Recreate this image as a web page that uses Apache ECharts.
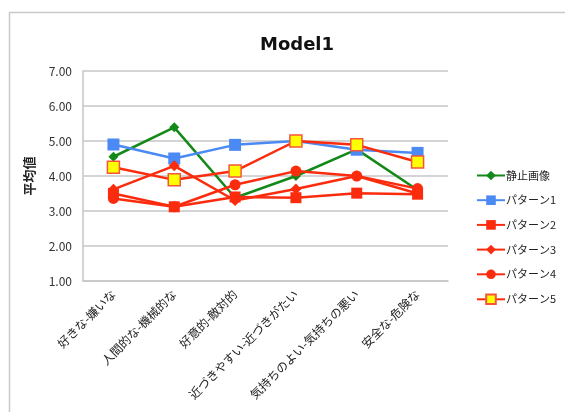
<!DOCTYPE html>
<html>
<head>
<meta charset="utf-8">
<script src="https://cdn.jsdelivr.net/npm/echarts@6/dist/echarts.min.js"></script>
<style>
  html, body { margin: 0; padding: 0; background: #fff; }
  #chart { width: 565px; height: 412px; }
</style>
</head>
<body>
<div id="chart"></div>
<script>
// Semantic differential pairs (x axis)
const categories = ['好きな-嫌いな', '人間的な-機械的な', '好意的-敵対的', '近づきやすい-近づきがたい', '気持ちのよい-気持ちの悪い', '安全な-危険な'];

// Mean scores per condition
const stillImage = [4.55, 5.39, 3.38, 4.00, 4.76, 3.60];
const pattern1   = [4.90, 4.50, 4.89, 5.00, 4.75, 4.66];
const pattern2   = [3.50, 3.12, 3.40, 3.38, 3.51, 3.48];
const pattern3   = [3.62, 4.29, 3.30, 3.63, 4.00, 3.50];
const pattern4   = [3.36, 3.12, 3.75, 4.14, 4.00, 3.64];
const pattern5   = [4.25, 3.89, 4.14, 5.00, 4.89, 4.40];

const yTicks = { min: 1, max: 7, interval: 1 };

const GREEN = '#13891a';
const BLUE = '#4b8af4';
const RED = '#fb2c0e';
const FONT = '"Noto Sans CJK JP", "Noto Sans", sans-serif';

function lineSeries(name, data, color, symbol, size, extra) {
  return Object.assign({
    name: name,
    type: 'line',
    data: data,
    symbol: symbol,
    symbolSize: size,
    lineStyle: { color: color, width: 2.5 },
    itemStyle: { color: color },
    emphasis: { disabled: true }
  }, extra || {});
}

const chart = echarts.init(document.getElementById('chart'), null, { renderer: 'canvas' });
chart.setOption({
  animation: false,
  backgroundColor: '#fff',
  textStyle: { fontFamily: FONT },
  graphic: [{
    type: 'rect',
    shape: { x: 9.5, y: 12.5, width: 600, height: 450 },
    style: { fill: 'none', stroke: '#c9c9c9', lineWidth: 1.5 },
    z: -1
  }],
  title: {
    text: 'Model1',
    left: 255,
    top: 31,
    textStyle: { fontFamily: '"DejaVu Sans", sans-serif', fontWeight: 'bold', fontSize: 18, color: '#111' }
  },
  grid: { left: 83, right: 117, top: 71, bottom: 131, containLabel: false },
  xAxis: {
    type: 'category',
    data: categories,
    boundaryGap: true,
    axisLine: { lineStyle: { color: '#c6c6c6', width: 1.5 } },
    axisTick: { show: false },
    axisLabel: { rotate: 45, margin: 11, fontSize: 12, color: '#222', fontFamily: FONT, interval: 0 }
  },
  yAxis: {
    type: 'value',
    min: yTicks.min,
    max: yTicks.max,
    interval: yTicks.interval,
    name: '平均値',
    nameLocation: 'middle',
    nameRotate: 90,
    nameGap: 47,
    nameTextStyle: { fontSize: 13, fontWeight: 'bold', color: '#222', fontFamily: FONT },
    axisLine: { show: true, lineStyle: { color: '#c6c6c6', width: 1.5 } },
    axisTick: { show: false },
    axisLabel: { margin: 11, fontSize: 12, color: '#333', fontFamily: FONT, formatter: v => v.toFixed(2) },
    splitLine: { lineStyle: { color: '#c6c6c6', width: 1.5 } }
  },
  legend: {
    orient: 'vertical',
    left: 471,
    top: 165,
    itemWidth: 28,
    itemHeight: 12,
    itemGap: 13.7,
    textStyle: { fontSize: 11, color: '#222', fontFamily: FONT, padding: [0, 0, 0, -4] },
    data: ['静止画像', 'パターン1', 'パターン2', 'パターン3', 'パターン4', 'パターン5']
  },
  series: [
    lineSeries('静止画像', stillImage, GREEN, 'diamond', 10),
    lineSeries('パターン1', pattern1, BLUE, 'rect', 12),
    lineSeries('パターン2', pattern2, RED, 'rect', 11),
    lineSeries('パターン3', pattern3, RED, 'diamond', 11),
    lineSeries('パターン4', pattern4, RED, 'circle', 11),
    lineSeries('パターン5', pattern5, RED, 'rect', 12, {
      itemStyle: { color: '#ffff00', borderColor: '#f6553a', borderWidth: 1.5 }
    })
  ]
});
</script>
</body>
</html>
